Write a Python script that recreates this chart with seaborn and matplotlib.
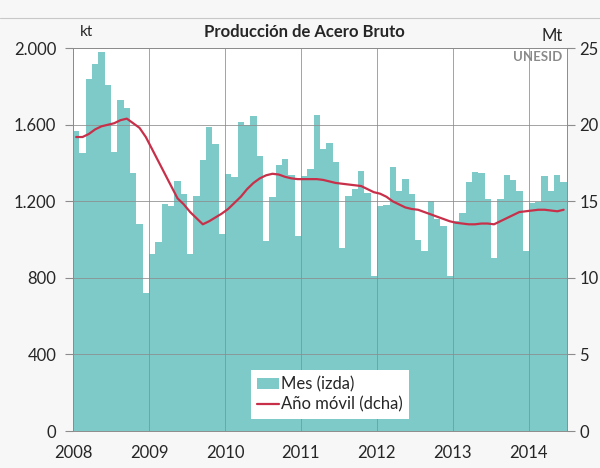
import numpy as np
import pandas as pd
import matplotlib.pyplot as plt
import seaborn as sns
from matplotlib.patches import Patch
from matplotlib.lines import Line2D

# Producción de acero bruto, mensual (kt) y año móvil (Mt)
years = [2008, 2009, 2010, 2011, 2012, 2013, 2014]

mes_kt = [
    1570, 1450, 1840, 1920, 1980, 1810, 1460, 1730, 1690, 1350, 1080, 720,   # 2008
    925, 985, 1185, 1175, 1305, 1240, 925, 1230, 1415, 1590, 1500, 1030,     # 2009
    1345, 1325, 1615, 1600, 1645, 1435, 995, 1225, 1390, 1420, 1335, 1020,   # 2010
    1330, 1370, 1650, 1475, 1505, 1405, 955, 1230, 1265, 1360, 1245, 812,    # 2011
    1176, 1180, 1377, 1254, 1315, 1237, 1000, 940, 1200, 1106, 1071, 812,    # 2012
    1095, 1140, 1300, 1355, 1350, 1210, 905, 1210, 1335, 1310, 1255, 940,    # 2013
    1190, 1195, 1330, 1255, 1340, 1300,                                      # 2014
]

anual_mt = [
    19.2, 19.2, 19.4, 19.7, 19.9, 20.0, 20.1, 20.3, 20.4, 20.1, 19.8, 19.2,
    18.4, 17.6, 16.8, 16.0, 15.2, 14.8, 14.3, 13.9, 13.5, 13.7, 13.95, 14.2,
    14.5, 14.9, 15.3, 15.8, 16.2, 16.5, 16.7, 16.8, 16.75, 16.6, 16.5, 16.45,
    16.45, 16.45, 16.45, 16.4, 16.3, 16.2, 16.15, 16.1, 16.05, 16.0, 15.8, 15.6,
    15.5, 15.3, 15.0, 14.8, 14.6, 14.5, 14.45, 14.3, 14.15, 14.0, 13.85, 13.7,
    13.6, 13.55, 13.5, 13.5, 13.55, 13.55, 13.5, 13.7, 13.9, 14.1, 14.3, 14.35,
    14.4, 14.45, 14.45, 14.4, 14.35, 14.45,
]

left_ticks = [0, 400, 800, 1200, 1600, 2000]
left_labels = ['0', '400', '800', '1.200', '1.600', '2.000']
right_ticks = [0, 5, 10, 15, 20, 25]

df = pd.DataFrame({'mes': range(len(mes_kt)), 'kt': mes_kt, 'mt': anual_mt})

bar_color = '#7ecac8'
line_color = '#c8304a'
grid_color = '#8c8c8c'

sns.set_style('white')
plt.rcParams['font.family'] = ['Lato', 'DejaVu Sans']

fig = plt.figure(figsize=(6, 4.68), dpi=100, facecolor='#f7f7f7')
ax = fig.add_axes([0.1217, 0.079, 0.823, 0.818])
ax.set_facecolor('white')

sns.barplot(data=df, x='mes', y='kt', color=bar_color, width=1.0,
            saturation=1, linewidth=0, ax=ax)

ax2 = ax.twinx()
sns.lineplot(data=df, x='mes', y='mt', color=line_color, lw=1.6, ax=ax2)

n = len(mes_kt)
ax.set_xlim(-0.5, n - 0.5)
ax.set_ylim(0, 2000)
ax2.set_ylim(0, 25)

ax.set_xticks([-0.5 + 12 * i for i in range(len(years))])
ax.set_xticklabels([str(y) for y in years])
ax.set_yticks(left_ticks)
ax.set_yticklabels(left_labels)
ax2.set_yticks(right_ticks)

ax.set_axisbelow(False)
ax.grid(True, color=grid_color, lw=0.7, alpha=0.8)
ax.set_xlabel('')
ax.set_ylabel('')
ax2.set_ylabel('')
ax2.set_xlabel('')

ax.tick_params(axis='y', length=6, color=grid_color, labelsize=12, pad=6)
ax.tick_params(axis='x', length=0, labelsize=12, pad=10)
ax2.tick_params(axis='y', length=6, color=grid_color, labelsize=12, pad=3)

for s in ax.spines.values():
    s.set_color(grid_color)
    s.set_linewidth(0.7)
for s in ax2.spines.values():
    s.set_visible(False)

if ax2.get_legend():
    ax2.get_legend().remove()

handles = [Patch(facecolor=bar_color, edgecolor='none'),
           Line2D([], [], color=line_color, lw=1.6)]
leg = fig.legend(handles, ['Mes (izda)', 'Año móvil (dcha)'],
                 loc='center', bbox_to_anchor=(0.55, 0.157),
                 frameon=True, fancybox=False, facecolor='white',
                 edgecolor='none', framealpha=1, fontsize=12,
                 handlelength=1.3, handletextpad=0.15, labelspacing=0.25,
                 borderpad=0.35)

fig.text(0.508, 1 - 32 / 468, 'Producción de Acero Bruto', ha='center',
         va='center', fontsize=12, fontweight='bold')
fig.text(0.133, 1 - 32 / 468, 'kt', ha='left', va='center', fontsize=11)
fig.text(0.92, 1 - 36 / 468, 'Mt', ha='center', va='center', fontsize=12)
fig.text(0.937, 1 - 57 / 468, 'UNESID', ha='right', va='center', fontsize=9.5,
         fontweight='bold', color='#8a8a8a')
fig.add_artist(Line2D([0, 1], [1 - 18 / 468] * 2, color='#c8c8c8', lw=0.8))

fig.savefig('out.png', dpi=100, facecolor=fig.get_facecolor())
